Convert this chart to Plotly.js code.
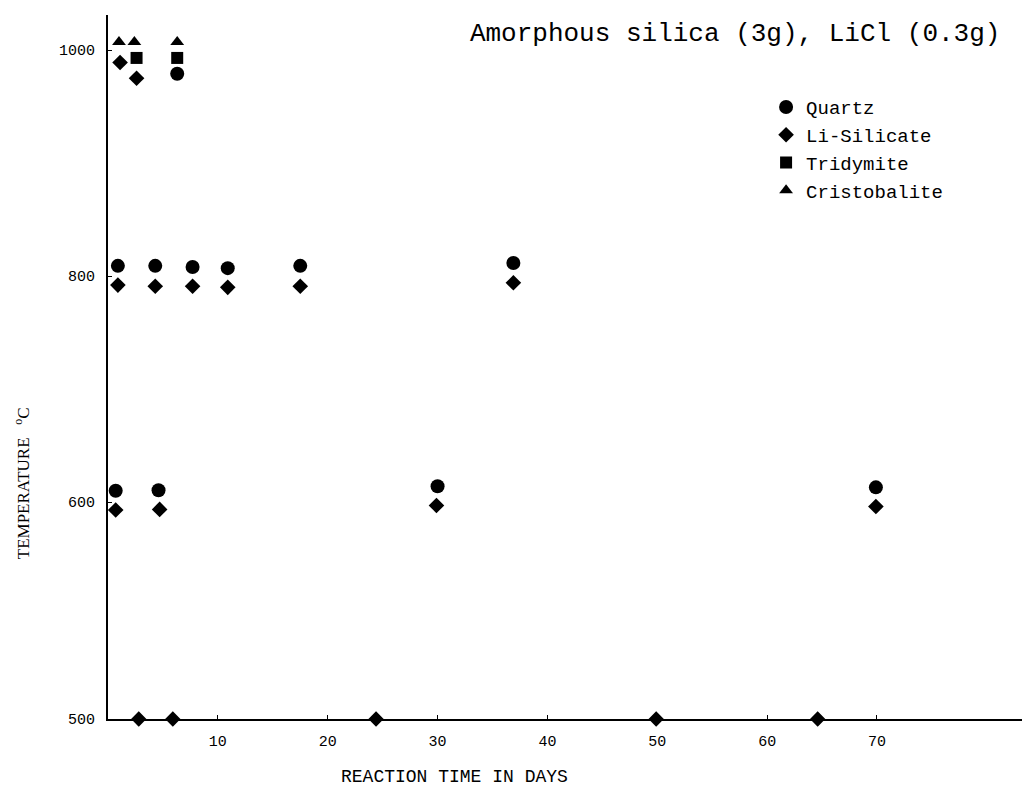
<!DOCTYPE html>
<html>
<head>
<meta charset="utf-8">
<script src="https://cdn.plot.ly/plotly-3.0.1.min.js"></script>
<style>html,body{margin:0;padding:0;background:#fff;}#chart{width:1026px;height:787px;}</style>
</head>
<body>
<div id="chart"></div>
<script>
// ---- data ----
const quartzDays = [6.3, 0.9, 4.3, 7.7, 10.9, 17.5, 36.9, 0.7, 4.6, 30.0, 69.9];
const quartzTemp = [979, 809, 809, 808, 807, 809, 811.5, 610, 610.5, 614, 613];

const liSilicateDays = [1.1, 2.6, 0.9, 4.3, 7.7, 10.9, 17.5, 36.9, 0.7, 4.7, 29.9, 69.9];
const liSilicateTemp = [989, 975, 792, 791, 791, 790, 791, 794, 593, 593.5, 597, 596];

const liSilicate500Days = [2.8, 5.9, 24.4, 49.9, 64.6];
const liSilicate500Temp = [500, 500, 500, 500, 500];

const tridymiteDays = [2.6, 6.3];
const tridymiteTemp = [993, 993];

const cristobaliteDays = [1.0, 2.4, 6.3];
const cristobaliteTemp = [1007, 1007, 1007];

const xTickVals = [10, 20, 30, 40, 50, 60, 70];
const yTickValsUpper = [600, 800, 1000];
const yTickValsLower = [500];

const titleText = 'Amorphous silica (3g), LiCl (0.3g)';
const xTitleText = 'REACTION TIME IN DAYS';
const yTitleText = 'TEMPERATURE &nbsp;&nbsp;<sup>o</sup>C';

// ---- traces ----
const black = '#000';
const traces = [
  {x: quartzDays, y: quartzTemp, name: 'Quartz', type: 'scatter', mode: 'markers',
   xaxis: 'x', yaxis: 'y', cliponaxis: false,
   marker: {symbol: 'circle', size: 14, color: black}},
  {x: liSilicateDays, y: liSilicateTemp, name: 'Li-Silicate', type: 'scatter', mode: 'markers',
   xaxis: 'x', yaxis: 'y', cliponaxis: false, legendgroup: 'li',
   marker: {symbol: 'diamond', size: 12, color: black}},
  {x: tridymiteDays, y: tridymiteTemp, name: 'Tridymite', type: 'scatter', mode: 'markers',
   xaxis: 'x', yaxis: 'y', cliponaxis: false,
   marker: {symbol: 'square', size: 12, color: black}},
  {x: cristobaliteDays, y: cristobaliteTemp, name: 'Cristobalite', type: 'scatter', mode: 'markers',
   xaxis: 'x', yaxis: 'y', cliponaxis: false,
   marker: {symbol: 'triangle-up', size: 12, color: black}},
  {x: liSilicate500Days, y: liSilicate500Temp, name: 'Li-Silicate', type: 'scatter', mode: 'markers',
   xaxis: 'x', yaxis: 'y2', cliponaxis: false, legendgroup: 'li', showlegend: false,
   marker: {symbol: 'diamond', size: 14, color: black, line: {color: '#fff', width: 2}}}
];

const monoFont = 'Liberation Mono, DejaVu Sans Mono, monospace';
const lowerFrac = 0.169;

const layout = {
  width: 1026, height: 787,
  paper_bgcolor: '#fff', plot_bgcolor: '#fff',
  margin: {l: 108, r: 4, t: 15, b: 68},
  showlegend: true,
  font: {family: monoFont, color: black},
  title: {
    text: titleText, xref: 'container', yref: 'container',
    x: 0.458, xanchor: 'left', y: 0.959, yanchor: 'middle',
    font: {family: monoFont, size: 26, color: black}
  },
  xaxis: {
    anchor: 'y2', range: [0, 83.2], showgrid: false, zeroline: false,
    showline: true, linecolor: black, linewidth: 2,
    ticks: 'inside', ticklen: 4, tickwidth: 1, tickcolor: black,
    tickmode: 'array', tickvals: xTickVals,
    ticklabelstandoff: 7,
    tickfont: {family: monoFont, size: 15, color: black}
  },
  yaxis: {
    domain: [lowerFrac, 1], anchor: 'x', range: [513.3, 1031],
    showgrid: false, zeroline: false,
    showline: true, linecolor: black, linewidth: 2,
    ticks: 'inside', ticklen: 4, tickwidth: 1, tickcolor: black,
    tickmode: 'array', tickvals: yTickValsUpper,
    ticklabelstandoff: 8,
    tickfont: {family: monoFont, size: 15, color: black}
  },
  yaxis2: {
    domain: [0, lowerFrac], anchor: 'x', range: [500, 554.6],
    showgrid: false, zeroline: false,
    showline: true, linecolor: black, linewidth: 2,
    ticks: 'inside', ticklen: 4, tickwidth: 1, tickcolor: black,
    tickmode: 'array', tickvals: yTickValsLower,
    ticklabelstandoff: 8,
    tickfont: {family: monoFont, size: 15, color: black}
  },
  legend: {
    x: 0.72, xanchor: 'left', y: 0.896, yanchor: 'top',
    bgcolor: 'rgba(0,0,0,0)', borderwidth: 0,
    itemwidth: 30, tracegroupgap: 0,
    font: {family: monoFont, size: 19, color: black}
  },
  annotations: [
    {text: xTitleText, xref: 'paper', yref: 'paper', x: 0.3786, y: -0.0824,
     xanchor: 'center', yanchor: 'middle', showarrow: false,
     font: {family: monoFont, size: 18, color: black}},
    {text: yTitleText, xref: 'paper', yref: 'paper', x: -0.094, y: 0.335,
     xanchor: 'center', yanchor: 'middle', showarrow: false, textangle: -90,
     font: {family: 'Liberation Serif, DejaVu Serif, serif', size: 17, color: black}}
  ]
};

Plotly.newPlot('chart', traces, layout, {displayModeBar: false, staticPlot: true});
</script>
</body>
</html>
